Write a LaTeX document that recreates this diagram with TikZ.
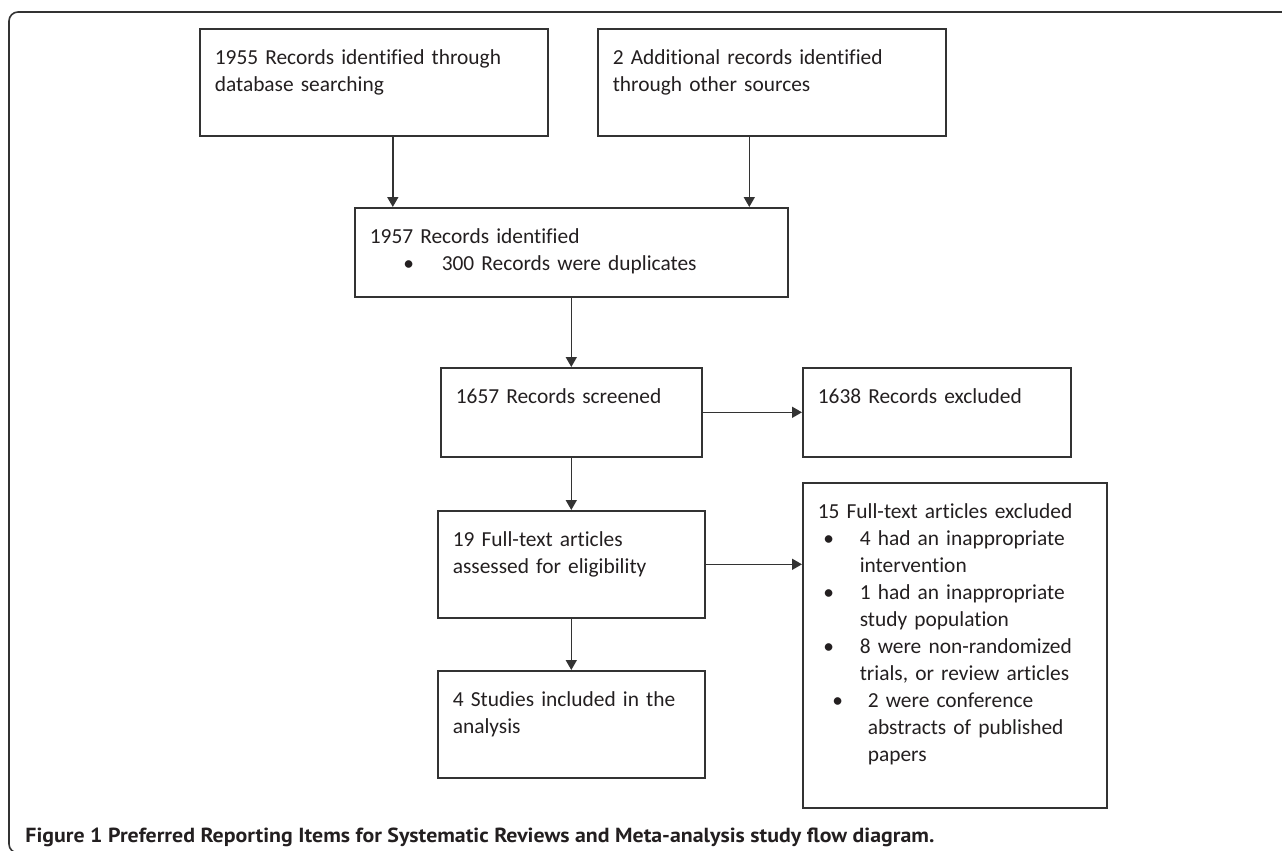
\documentclass[tikz,border=0pt]{standalone}
\usepackage{fontspec}
\setmainfont{Carlito}[Ligatures=NoCommon]
\newfontfamily\captionfont{PT Sans}
\usetikzlibrary{arrows.meta}

\definecolor{inkgray}{HTML}{231F20}
\definecolor{linegray}{HTML}{333333}

\newcommand\bul[3]{\hspace*{#1}\makebox[0pt]{\textbullet}\hspace*{#2}#3}
\newcommand\cont[1]{\hspace*{#1}}

\tikzset{
  prisma/.style={draw=linegray, line width=0.8pt, anchor=north west, inner xsep=7.5pt, inner ysep=0pt,
    align=left, text height=18pt, text=inkgray, font=\fontsize{10.7}{13.5}\selectfont},
  flow/.style={draw=linegray, line width=0.8pt, -{Triangle[length=5pt, width=5.5pt]}}
}

\begin{document}
\begin{tikzpicture}[x=0.5pt, y=-0.5pt]
  \useasboundingbox (0, 0) rectangle (1282, 851);
  \draw [linegray, line width=0.8pt, rounded corners=4.5pt] (1300, 12) -- (9, 12) -- (9, 853) -- (1300, 853);

  \node [prisma, text width=159pt, text depth=35.5pt] (idsearch) at (199, 28)
    {1955 Records identified through\\database searching};
  \node [prisma, text width=159pt, text depth=35.5pt] (othersrc) at (597, 28)
    {2 Additional records identified\\through other sources};
  \node [prisma, text width=201.5pt, text depth=26.5pt] (identified) at (354, 207)
    {1957 Records identified\\\bul{19.5pt}{16.5pt}{300 Records were duplicates}};
  \node [prisma, text width=115.5pt, text depth=26.5pt] (screened) at (440, 367)
    {1657 Records screened};
  \node [prisma, text width=119pt, text depth=26.5pt] (excluded) at (802, 367)
    {1638 Records excluded};
  \node [prisma, text width=118.5pt, text depth=35.5pt] (fulltext) at (437, 510)
    {19 Full-text articles\\assessed for eligibility};
  \node [prisma, text width=118.5pt, text depth=35.5pt] (included) at (437, 670)
    {4 Studies included in the\\analysis};
  \node [prisma, text width=137pt, text depth=144.5pt] (reasons) at (802, 482)
    {15 Full-text articles excluded\\
     \bul{5.5pt}{15.5pt}{4 had an inappropriate}\\
     \cont{21pt}intervention\\
     \bul{5.5pt}{15.5pt}{1 had an inappropriate}\\
     \cont{21pt}study population\\
     \bul{5.5pt}{15.5pt}{8 were non-randomized}\\
     \cont{21pt}trials, or review articles\\
     \bul{10pt}{15pt}{2 were conference}\\
     \cont{25pt}abstracts of published\\
     \cont{25pt}papers};

  \draw [flow] ([xshift=9.5pt]idsearch.south) -- ([xshift=9.5pt]idsearch.south |- identified.north);
  \draw [flow] ([xshift=-11.25pt]othersrc.south) -- ([xshift=-11.25pt]othersrc.south |- identified.north);
  \draw [flow] (identified) -- (screened);
  \draw [flow] (screened) -- (excluded);
  \draw [flow] (screened) -- (fulltext);
  \draw [flow] (fulltext.east) -- (fulltext.east -| reasons.west);
  \draw [flow] (fulltext) -- (included);

  \node [anchor=base west, inner sep=0pt, text=inkgray, font=\captionfont\bfseries\fontsize{10.2}{12}\selectfont] (caption) at (25, 842)
    {\resizebox{454.5pt}{\height}{Figure 1 Preferred Reporting Items for Systematic Reviews and Meta-analysis study flow diagram.}};
\end{tikzpicture}
\end{document}
